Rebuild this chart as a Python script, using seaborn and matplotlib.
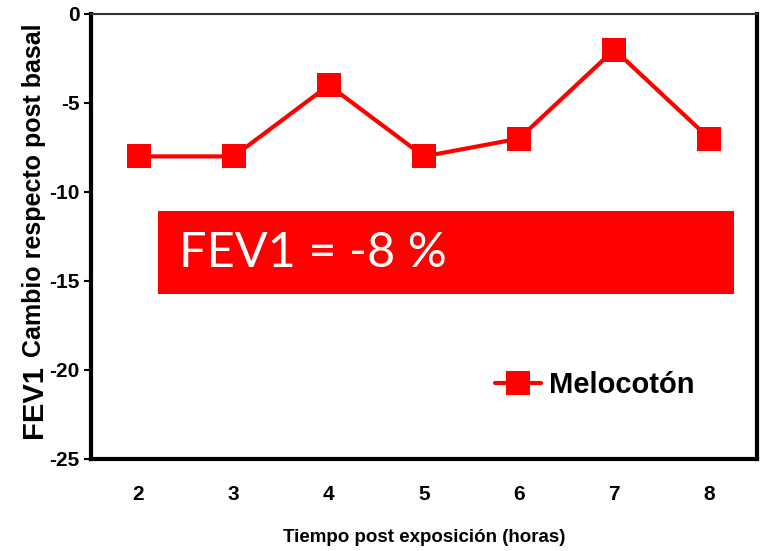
import matplotlib
matplotlib.use("Agg")
import matplotlib.pyplot as plt
import seaborn as sns
import pandas as pd
from matplotlib.patches import Rectangle

hours = [2, 3, 4, 5, 6, 7, 8]
fev1_change = [-8, -8, -4, -8, -7, -2, -7]
series_name = "Melocotón"
y_ticks = [0, -5, -10, -15, -20, -25]
x_label = "Tiempo post exposición (horas)"
annot_text = "FEV1 = -8 %"

sns.set_style("white")
plt.rcParams["font.family"] = ["Liberation Sans", "DejaVu Sans"]
for k in ["text.color", "axes.labelcolor", "xtick.color", "ytick.color"]:
    plt.rcParams[k] = "black"

df = pd.DataFrame({"hora": hours, "cambio": fev1_change, "serie": series_name})

fig = plt.figure(figsize=(7.75, 5.51), dpi=100)
ax = fig.add_axes([0.1174, 0.167, 0.8594, 0.8076])

sns.lineplot(data=df, x="hora", y="cambio", hue="serie", palette=["#ff0000"],
             marker="s", markersize=17, markeredgewidth=0, linewidth=3,
             ax=ax, legend=False)

ax.set_xlim(1.5, 8.5)
ax.set_ylim(-25, 0)
ax.set_xticks(hours)
ax.set_xticklabels([str(h) for h in hours], fontsize=15, fontweight="bold")
ax.set_yticks(y_ticks)
ax.set_yticklabels([str(v) for v in y_ticks], fontsize=15, fontweight="bold")
ax.tick_params(axis="y", direction="out", length=5, width=1.5, left=True, pad=3)
ax.tick_params(axis="x", length=0, pad=19)
ax.set_xlabel("")
ax.set_ylabel("")

for s in ["left", "bottom", "right"]:
    ax.spines[s].set_linewidth(3)
    ax.spines[s].set_color("black")
ax.spines["top"].set_linewidth(1.5)
ax.spines["top"].set_color("#333333")

# red annotation box
ax.add_patch(Rectangle((2.2, -15.75), 6.06, 4.71, facecolor="#ff0000",
                       edgecolor="none", zorder=3))
ax.text(2.42, -13.45, annot_text, color="white", fontsize=35,
        family=["Lato", "DejaVu Sans"], va="center", ha="left", zorder=4)

# legend
handle, = ax.plot([], [], color="#ff0000", marker="s", markersize=17,
                  markeredgewidth=0, linewidth=3, label=series_name)
leg = ax.legend(handles=[handle], loc="center", bbox_to_anchor=(0.756, 0.166),
                frameon=False, handlelength=1.6, handletextpad=0.25,
                prop={"weight": "bold", "size": 21})

fig.text(0.547, 0.025, x_label, ha="center", va="center",
         fontsize=13.5, fontweight="bold")
fig.text(0.044, 0.205, "FEV1", rotation=90, ha="center", va="bottom",
         fontsize=21, fontweight="bold")
fig.text(0.044, 0.352, "Cambio respecto post basal", rotation=90,
         ha="center", va="bottom", fontsize=18, fontweight="bold")

fig.savefig("out.png", dpi=100)
